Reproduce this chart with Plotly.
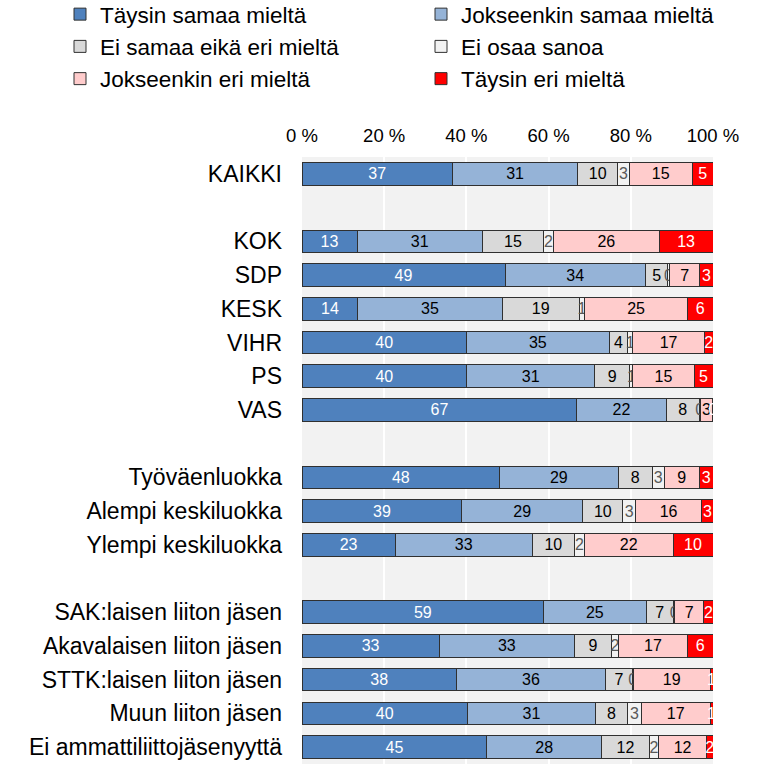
import plotly.graph_objects as go

# ---- data ----
categories = [
    "KAIKKI",
    "KOK", "SDP", "KESK", "VIHR", "PS", "VAS",
    "Työväenluokka", "Alempi keskiluokka", "Ylempi keskiluokka",
    "SAK:laisen liiton jäsen", "Akavalaisen liiton jäsen", "STTK:laisen liiton jäsen",
    "Muun liiton jäsen", "Ei ammattiliittojäsenyyttä",
]
group_sizes = [1, 6, 3, 5]

series_names = [
    "Täysin samaa mieltä", "Jokseenkin samaa mieltä", "Ei samaa eikä eri mieltä",
    "Ei osaa sanoa", "Jokseenkin eri mieltä", "Täysin eri mieltä",
]

taysin_samaa      = [36.6, 13.4, 49.4, 13.6, 40.0, 40.1, 66.9, 48.1, 38.9, 22.7, 58.8, 33.4, 37.6, 40.3, 45.0]
jokseenkin_samaa  = [30.5, 30.5, 34.2, 35.1, 34.8, 31.1, 21.7, 28.8, 29.4, 33.3, 24.9, 32.9, 36.2, 31.1, 27.9]
ei_samaa_eika_eri = [9.7, 14.9, 5.4, 18.8, 4.4, 8.6, 8.1, 8.4, 9.8, 10.3, 6.7, 9.0, 6.6, 7.8, 11.6]
ei_osaa_sanoa     = [2.8, 2.4, 0.4, 1.3, 1.3, 0.7, 0.2, 2.8, 3.0, 2.4, 0.3, 1.7, 0.2, 3.4, 2.3]
jokseenkin_eri    = [15.4, 25.7, 7.4, 25.0, 17.4, 14.9, 3.0, 8.6, 16.2, 21.6, 7.1, 16.8, 18.7, 16.7, 11.6]
taysin_eri        = [5.0, 13.1, 3.2, 6.2, 2.1, 4.6, 0.1, 3.3, 2.7, 9.7, 2.2, 6.2, 0.7, 0.7, 1.6]

x_tick_values = [0, 20, 40, 60, 80, 100]

# ---- styling ----
colors = ["#4F81BD", "#95B3D7", "#D9D9D9", "#F2F2F2", "#FFCCCC", "#FF0000"]
text_colors = ["white", "black", "black", "#595959", "black", "white"]
legend_ids = ["legend", "legend2", "legend", "legend2", "legend", "legend2"]
FONT = "Liberation Sans, Arial, sans-serif"

# row positions with a blank slot between groups
positions = []
pos = 0
for size in group_sizes:
    for _ in range(size):
        positions.append(pos)
        pos += 1
    pos += 1
last_slot = max(positions)

all_series = [taysin_samaa, jokseenkin_samaa, ei_samaa_eika_eri,
              ei_osaa_sanoa, jokseenkin_eri, taysin_eri]

fig = go.Figure()
for name, vals, col, tcol, lg in zip(series_names, all_series, colors, text_colors, legend_ids):
    fig.add_trace(go.Bar(
        name=name,
        y=positions,
        x=vals,
        orientation="h",
        marker=dict(color=col, line=dict(color="#303030", width=1)),
        texttemplate="%{x:.0f}",
        textposition="inside",
        insidetextanchor="middle",
        textangle=0,
        constraintext="none",
        textfont=dict(family=FONT, size=16, color=tcol),
        legend=lg,
        hoverinfo="skip",
    ))

W, H = 771, 764
ml, mr, mt, mb = 302, 58, 157, 0
pw = W - ml - mr
ph = H - mt - mb

def paper_x(px):
    return (px - ml) / pw

def paper_y(py):
    return 1 + (mt - py) / ph

legend_common = dict(
    orientation="v",
    xanchor="left",
    yanchor="top",
    font=dict(family=FONT, size=22.5, color="black"),
    bgcolor="rgba(0,0,0,0)",
    indentation=-8,
    traceorder="normal",
)

fig.update_layout(
    width=W, height=H,
    margin=dict(l=ml, r=mr, t=mt, b=mb, autoexpand=False),
    barmode="stack",
    bargap=0.33,
    plot_bgcolor="#F2F2F2",
    paper_bgcolor="white",
    font=dict(family=FONT, color="black"),
    showlegend=True,
    legend=dict(x=paper_x(68), y=paper_y(-7), **legend_common),
    legend2=dict(x=paper_x(429), y=paper_y(-7), **legend_common),
    xaxis=dict(
        side="top",
        range=[0, 100],
        tickvals=x_tick_values,
        ticktext=[f"{v} %" for v in x_tick_values],
        tickfont=dict(family=FONT, size=18.5, color="black"),
        showgrid=True, gridcolor="white", gridwidth=1.5,
        zeroline=False, showline=False, ticks="",
        ticklabelstandoff=10,
        fixedrange=True,
    ),
    yaxis=dict(
        range=[last_slot + 0.5, -0.5],
        tickvals=positions,
        ticktext=categories,
        tickfont=dict(family=FONT, size=23, color="black"),
        showgrid=False, zeroline=False, showline=False, ticks="",
        ticklabelstandoff=19,
        fixedrange=True,
    ),
)

fig.write_html(
    "out.html",
    config={"displayModeBar": False},
    post_script="document.body.style.margin='0px'; document.body.style.overflow='hidden';",
)
